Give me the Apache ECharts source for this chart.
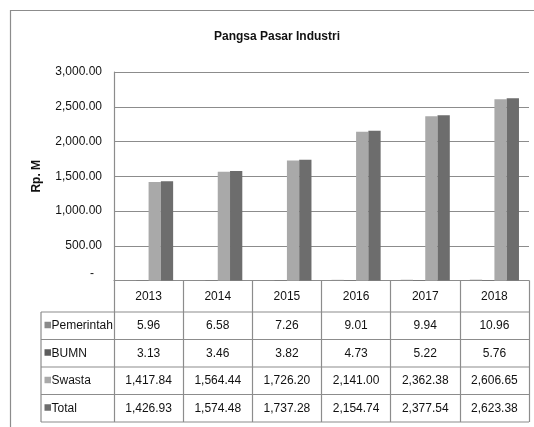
<!DOCTYPE html>
<html>
<head>
<meta charset="utf-8">
<script src="https://cdn.jsdelivr.net/npm/echarts@6/dist/echarts.min.js"></script>
<style>
html,body{margin:0;padding:0;background:#fff;}
#c{width:534px;height:427px;}
</style>
</head>
<body>
<div id="c"></div>
<script>
const years = ['2013','2014','2015','2016','2017','2018'];
const pemerintah = [5.96, 6.58, 7.26, 9.01, 9.94, 10.96];
const bumn = [3.13, 3.46, 3.82, 4.73, 5.22, 5.76];
const swasta = [1417.84, 1564.44, 1726.20, 2141.00, 2362.38, 2606.65];
const total = [1426.93, 1574.48, 1737.28, 2154.74, 2377.54, 2623.38];
const seriesNames = ['Pemerintah', 'BUMN', 'Swasta', 'Total'];

const colors = ['#8a8a8a', '#5c5c5c', '#a9a9a9', '#6d6d6d'];
const FONT = '"Liberation Sans", Arial, sans-serif';
const FS = 12;
const gridLeft = 114, gridRight = 5, gridTop = 72, gridBottom = 146.5;
const W = 534, H = 427;
const axisY = H - gridBottom;
const headerH = 31.5, rowH = 27.5;
const tableLeft = 41;

function fmt(v){
  return v.toLocaleString('en-US', {minimumFractionDigits:2, maximumFractionDigits:2});
}
const allSeries = [pemerintah, bumn, swasta, total];

const chart = echarts.init(document.getElementById('c'));

const graphics = [];
graphics.push({type:'rect', shape:{x:10.5, y:10.5, width:540, height:440}, style:{fill:null, stroke:'#8c8c8c', lineWidth:1.2}, silent:true, z:-1});
for (let r = 0; r <= 4; r++) {
  const y = axisY + headerH + r * rowH;
  graphics.push({type:'line', shape:{x1:tableLeft, y1:y, x2:W - gridRight, y2:y}, style:{stroke:'#8c8c8c', lineWidth:1.2}, silent:true});
}
graphics.push({type:'line', shape:{x1:tableLeft, y1:axisY + headerH, x2:tableLeft, y2:axisY + headerH + 4*rowH}, style:{stroke:'#8c8c8c', lineWidth:1.2}, silent:true});
seriesNames.forEach((n, i) => {
  const cy = axisY + headerH + i * rowH + rowH / 2;
  graphics.push({type:'rect', shape:{x:tableLeft + 3.5, y:cy - 4, width:6.5, height:6.5}, style:{fill:colors[i]}, silent:true});
  graphics.push({type:'text', x:tableLeft + 10.5, y:cy, style:{text:n, font:FS + 'px ' + FONT, fill:'#111', verticalAlign:'middle', align:'left'}, silent:true});
});

const richLabel = {
  y: {lineHeight: headerH, fontSize: FS, fontFamily: FONT, color:'#111', align:'center'},
  v: {lineHeight: rowH, fontSize: FS, fontFamily: FONT, color:'#111', align:'center'}
};

chart.setOption({
  animation: false,
  title: {
    text: 'Pangsa Pasar Industri',
    left: 277, top: 31, textAlign: 'center', padding: 0,
    textStyle: {fontFamily: FONT, fontWeight: 'bold', fontSize: 12, color:'#111'}
  },
  grid: {left: gridLeft, right: gridRight, top: gridTop, bottom: gridBottom, containLabel: false},
  xAxis: {
    type: 'category',
    data: years,
    axisLine: {lineStyle: {color: '#8c8c8c', width: 1.2}},
    axisTick: {show: true, interval: 0, length: headerH + 4*rowH, lineStyle: {color:'#8c8c8c', width:1.2}},
    axisLabel: {
      interval: 0,
      margin: 0,
      verticalAlign: 'top',
      align: 'center',
      formatter: function(value, idx){
        let s = '{y|' + value + '}';
        allSeries.forEach(arr => { s += '\n{v|' + fmt(arr[idx]) + '}'; });
        return s;
      },
      rich: richLabel
    }
  },
  yAxis: {
    type: 'value',
    min: 0, max: 3000, interval: 500,
    name: 'Rp. M',
    nameLocation: 'middle',
    nameGap: 71,
    nameRotate: 90,
    nameTextStyle: {fontFamily: FONT, fontWeight: 'bold', fontSize: FS, color:'#111'},
    axisLine: {show: true, lineStyle: {color: '#8c8c8c', width: 1.2}},
    axisTick: {show: false},
    splitLine: {lineStyle: {color: '#8c8c8c', width: 1.2}},
    axisLabel: {
      margin: 12,
      fontFamily: FONT, fontSize: FS, color: '#111',
      formatter: function(v){ return v === 0 ? '{d|-}' : fmt(v); },
      rich: {d: {fontFamily: FONT, fontSize: FS, color:'#111', padding:[0,8,14,0]}}
    }
  },
  series: allSeries.map((arr, i) => ({
    name: seriesNames[i],
    type: 'bar',
    data: arr,
    barGap: '0%',
    barCategoryGap: '29%',
    itemStyle: {color: colors[i]}
  })),
  graphic: graphics
});
</script>
</body>
</html>
